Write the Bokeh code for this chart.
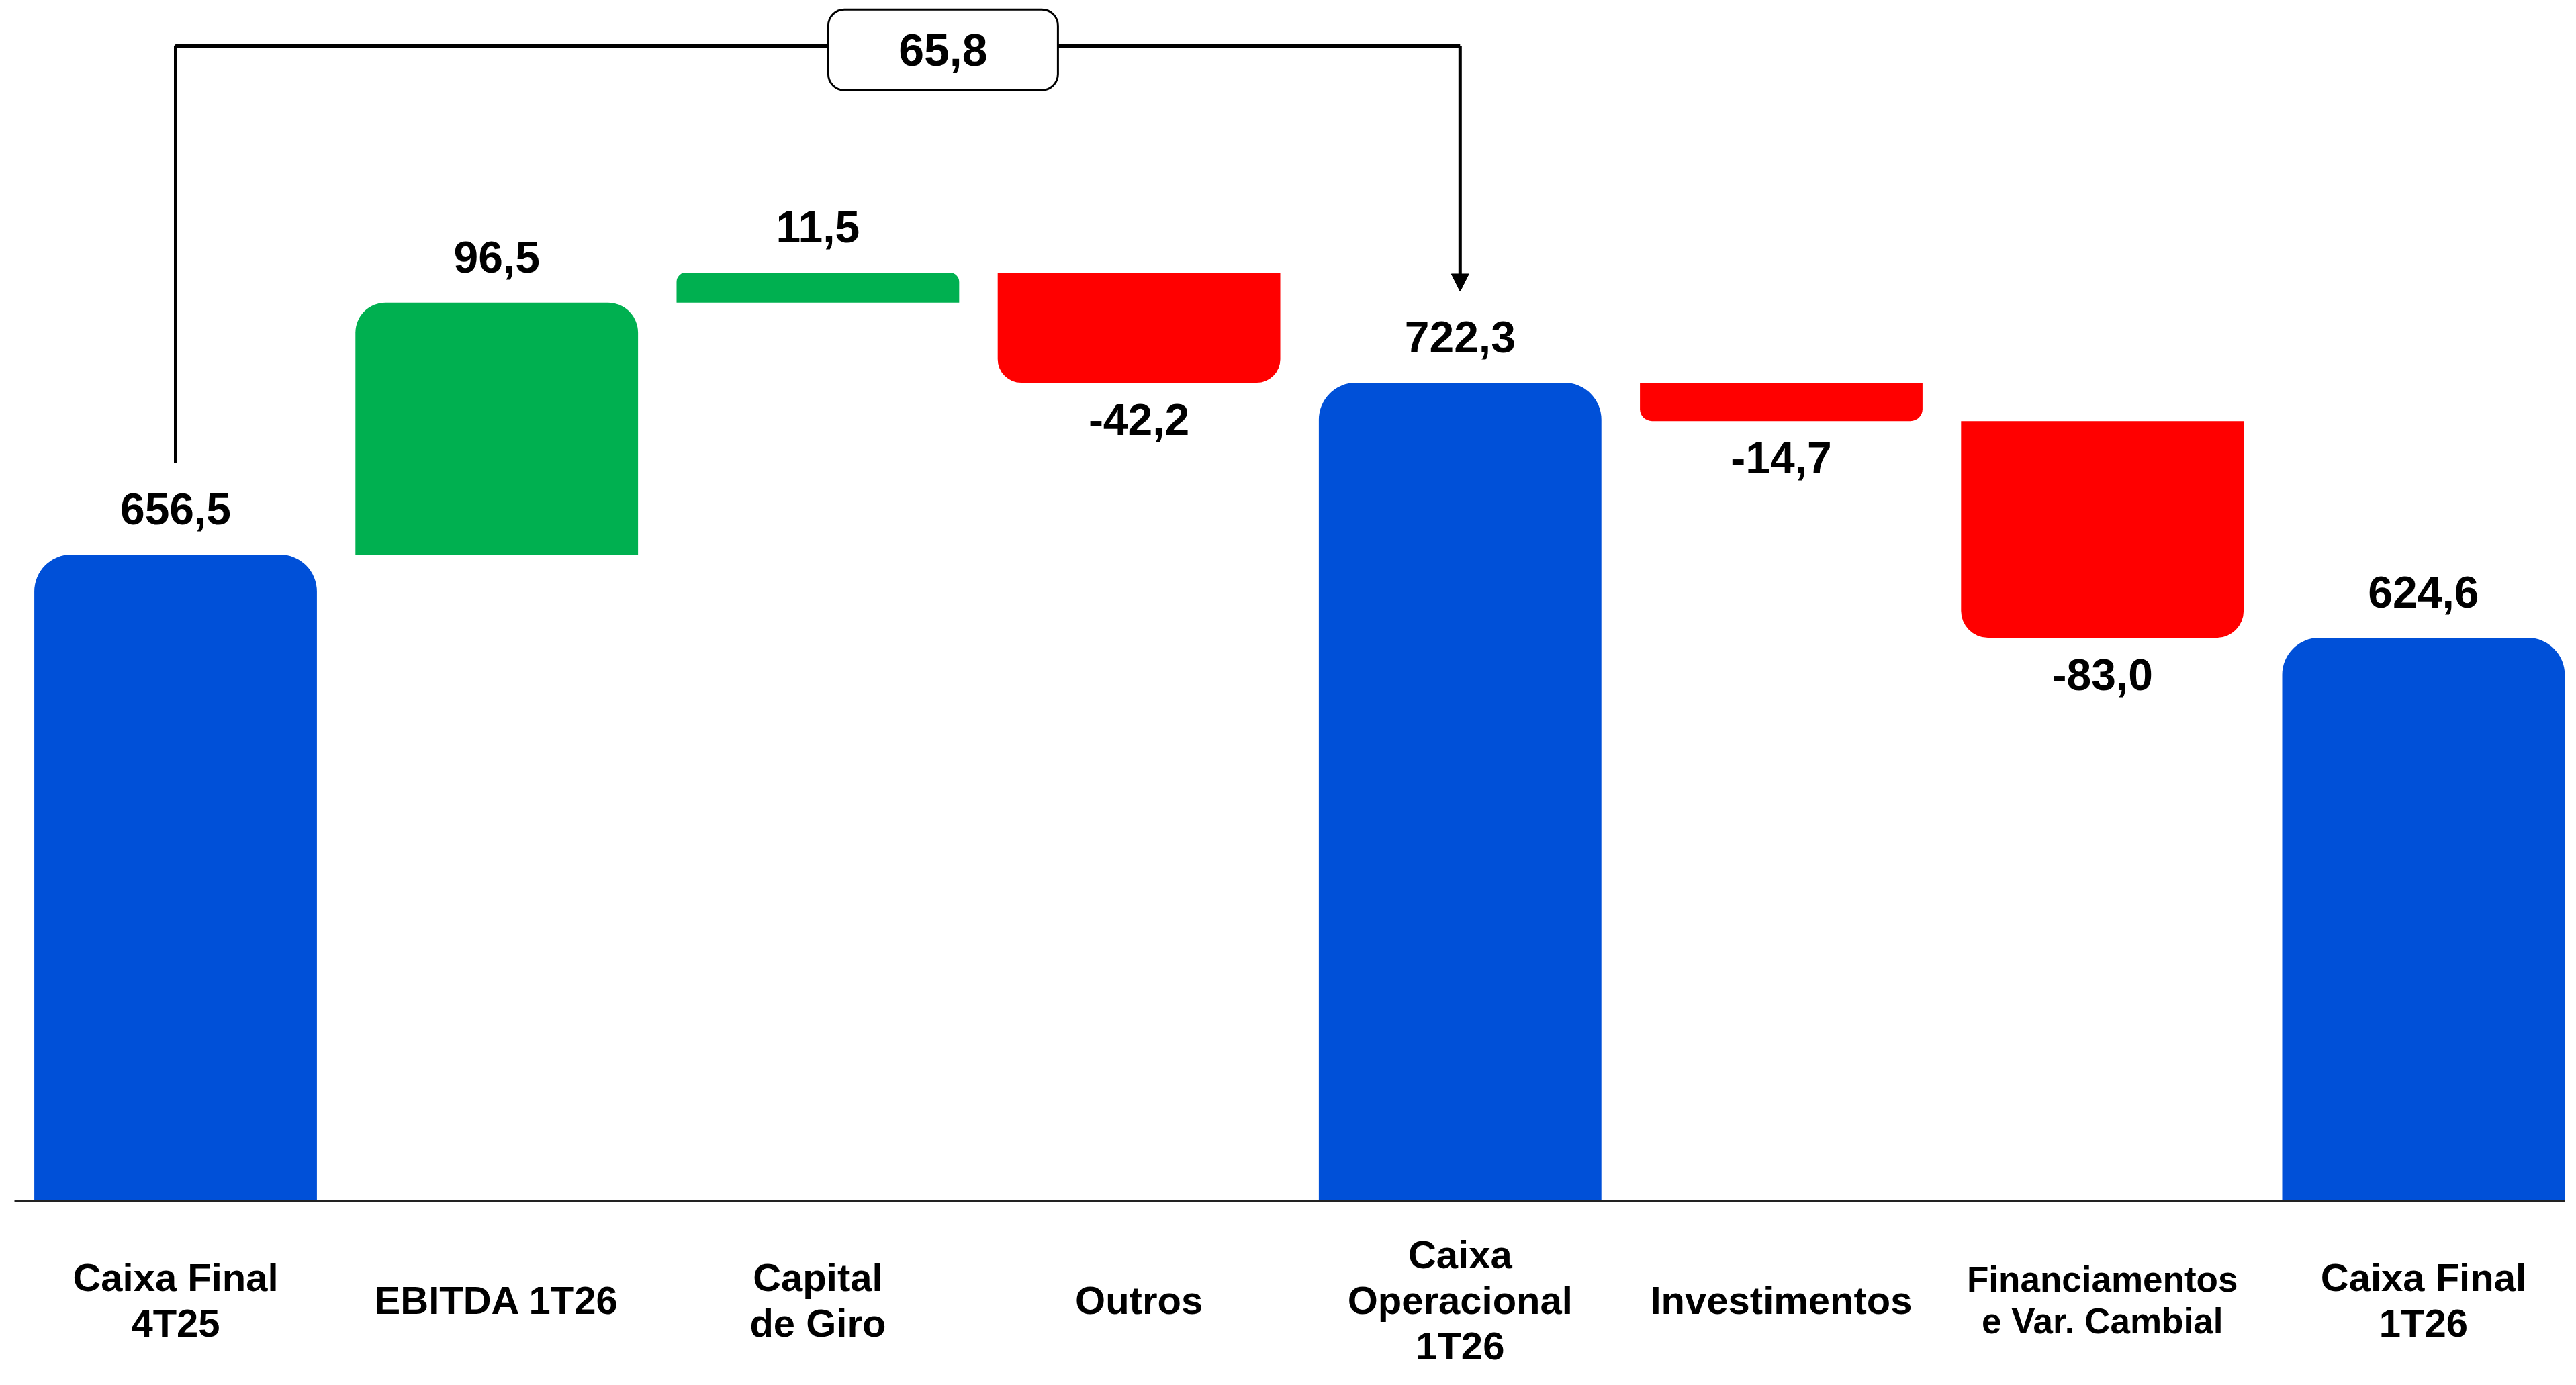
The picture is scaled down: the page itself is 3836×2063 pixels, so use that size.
from bokeh.plotting import figure
from bokeh.models import Range1d, ColumnDataSource, Arrow, NormalHead
from bokeh.core.properties import value
from bokeh.embed import file_html
from bokeh.resources import INLINE

# ---- data ----
categories = ["Caixa Final\n4T25", "EBITDA 1T26", "Capital\nde Giro", "Outros",
              "Caixa\nOperacional\n1T26", "Investimentos",
              "Financiamentos\ne Var. Cambial", "Caixa Final\n1T26"]
values = [656.5, 96.5, 11.5, -42.2, 722.3, -14.7, -83.0, 624.6]
kinds = ["total", "delta", "delta", "delta", "total", "delta", "delta", "total"]

# ---- styles / layout ----
BASE = 409.0          # visual baseline of the (truncated) value axis
K = 3.889             # px per unit
W, H = 3820, 2047
BASE_PX = 1788        # baseline position inside the frame, px from top
SPACING = 478.2       # px per category
BLUE, GREEN, RED = "#0050D8", "#00B050", "#FF0000"
FONT = value("Liberation Sans")
radii = [55, 45, 14, 35, 55, 18, 40, 55]
cat_font_sizes = ["58px", "58px", "58px", "58px", "58px", "58px", "53px", "58px"]

def fmt(v):
    return ("%.1f" % v).replace(".", ",")

# waterfall geometry from data
bottoms, tops = [], []
running = 0.0
for v, k in zip(values, kinds):
    if k == "total":
        running = v
        bottoms.append(BASE)
        tops.append(v)
    else:
        b = running
        running = running + v
        bottoms.append(min(b, running))
        tops.append(max(b, running))
xs = list(range(len(categories)))

x0 = -261 / SPACING
x1 = x0 + W / SPACING
x_range = Range1d(x0, x1)
y_range = Range1d(BASE - (H - BASE_PX) / K, BASE + BASE_PX / K)

p = figure(width=W, height=H, output_backend="svg", toolbar_location=None,
           x_range=x_range, y_range=y_range, x_axis_location=None,
           y_axis_location=None, min_border=0)
p.grid.visible = False
p.outline_line_color = None
p.background_fill_color = "white"

for i in xs:
    if kinds[i] == "total":
        color = BLUE
        br = (radii[i], radii[i], 0, 0)
    elif values[i] >= 0:
        color = GREEN
        br = (radii[i], radii[i], 0, 0)
    else:
        color = RED
        br = (0, 0, radii[i], radii[i])
    p.vbar(x=[xs[i]], bottom=[bottoms[i]], top=[tops[i]], width=0.88,
           fill_color=color, line_color=None, border_radius=br)

# baseline
p.line(x=[x0 + 21 / SPACING, x1], y=[BASE, BASE], line_color="#222222", line_width=3)

# value labels
up = [i for i in xs if kinds[i] == "total" or values[i] >= 0]
dn = [i for i in xs if not (kinds[i] == "total" or values[i] >= 0)]
p.text(x=[xs[i] for i in up], y=[tops[i] for i in up], text=[fmt(values[i]) for i in up],
       text_font=FONT, text_font_style="bold", text_font_size="66px",
       text_align="center", text_baseline="bottom", y_offset=-45, text_color="black")
p.text(x=[xs[i] for i in dn], y=[bottoms[i] for i in dn], text=[fmt(values[i]) for i in dn],
       text_font=FONT, text_font_style="bold", text_font_size="66px",
       text_align="center", text_baseline="top", y_offset=32, text_color="black")

# category labels
cat_src = ColumnDataSource(dict(x=xs, y=[BASE] * len(xs), t=categories, fs=cat_font_sizes))
p.text(x="x", y="y", text="t", source=cat_src, text_font=FONT, text_font_style="bold",
       text_font_size="fs", text_align="center", text_baseline="middle",
       y_offset=148, text_line_height=1.05, text_color="black")

# connector: Caixa Final 4T25 -> Caixa Operacional 1T26
level = max(tops) + 86.8
start = values[0] + 35
tip = values[4] + 35
p.line(x=[xs[0], xs[0], xs[4]], y=[start, level, level], line_color="black", line_width=5)
p.add_layout(Arrow(end=NormalHead(size=26, fill_color="black", line_color="black"),
                   x_start=xs[4], y_start=level, x_end=xs[4], y_end=tip,
                   line_color="black", line_width=5))
diff = values[4] - values[0]
BOX_X = 2.39
p.rect(x=[BOX_X], y=[level - 1.5], width=342, height=120, width_units="screen",
       height_units="screen", fill_color="white", line_color="black", line_width=3,
       border_radius=24)
p.text(x=[BOX_X], y=[level - 1.5], text=[fmt(diff)], text_font=FONT, text_font_style="bold",
       text_font_size="68px", text_align="center", text_baseline="middle", text_color="black")

open("out.html", "w").write(file_html(p, INLINE))
